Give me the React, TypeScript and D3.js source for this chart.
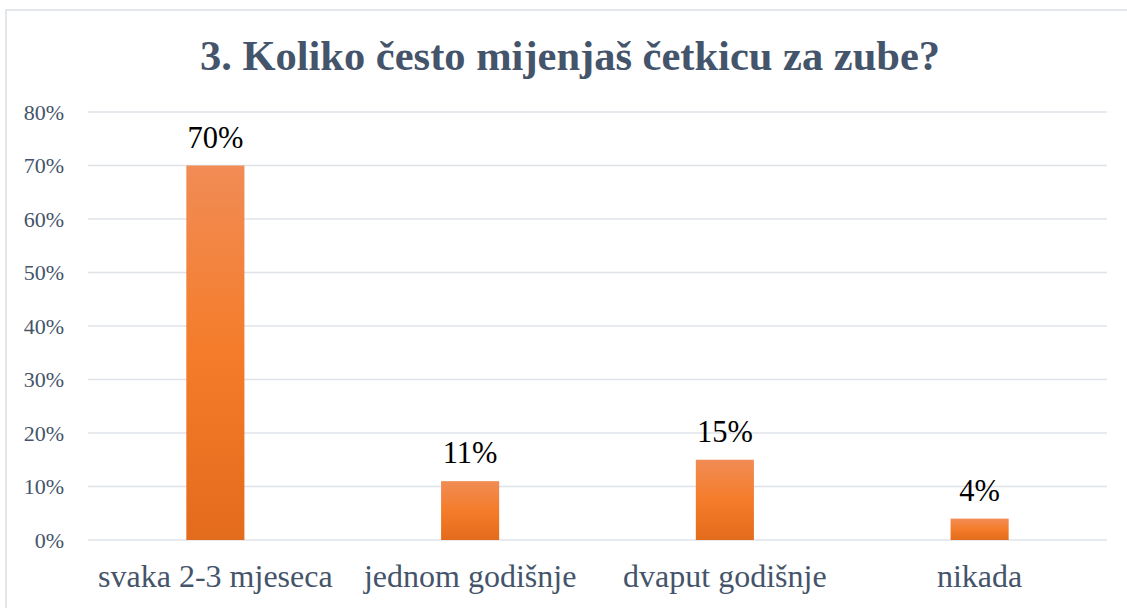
import React, { useEffect, useRef } from "react";
import * as d3 from "d3";

const categories = ["svaka 2-3 mjeseca", "jednom godišnje", "dvaput godišnje", "nikada"];
const values = [70, 11, 15, 4];
const yTicks = [0, 10, 20, 30, 40, 50, 60, 70, 80];
const title = "3. Koliko često mijenjaš četkicu za zube?";

const serif = "'Liberation Serif', 'Times New Roman', serif";

const App: React.FC = () => {
  const svgRef = useRef<SVGSVGElement | null>(null);

  useEffect(() => {
    if (!svgRef.current) return;
    const width = 1127;
    const height = 608;
    const left = 88;
    const right = 1107;
    const top = 112;
    const bottom = 540;

    const svg = d3.select(svgRef.current);
    svg.selectAll("*").remove();
    svg.attr("width", width).attr("height", height);

    // gradient for bars
    const grad = svg
      .append("defs")
      .append("linearGradient")
      .attr("id", "barGrad")
      .attr("x1", 0)
      .attr("y1", 0)
      .attr("x2", 0)
      .attr("y2", 1);
    grad.append("stop").attr("offset", "0%").attr("stop-color", "#f18c55");
    grad.append("stop").attr("offset", "50%").attr("stop-color", "#f47c2a");
    grad.append("stop").attr("offset", "100%").attr("stop-color", "#e36c1c");

    svg.append("rect").attr("width", width).attr("height", height).attr("fill", "#fff");

    // chart border (runs off the right/bottom edge)
    svg
      .append("rect")
      .attr("x", 6)
      .attr("y", 10)
      .attr("width", width + 20)
      .attr("height", height + 20)
      .attr("fill", "none")
      .attr("stroke", "#dadfe6")
      .attr("stroke-width", 1.5);

    const x = d3.scaleBand<string>().domain(categories).range([left, right]).padding(0);
    const y = d3.scaleLinear().domain([0, 80]).range([bottom, top]);
    const barW = x.bandwidth() * 0.228;

    // title
    svg
      .append("text")
      .attr("x", 570)
      .attr("y", 70)
      .attr("text-anchor", "middle")
      .attr("font-family", serif)
      .attr("font-weight", "bold")
      .attr("font-size", 42.5)
      .attr("fill", "#44546a")
      .text(title);

    // gridlines
    svg
      .append("g")
      .selectAll("line")
      .data(yTicks)
      .join("line")
      .attr("x1", left)
      .attr("x2", right)
      .attr("y1", (d) => y(d))
      .attr("y2", (d) => y(d))
      .attr("stroke", "#dfe3e8")
      .attr("stroke-width", 1.5);

    // y tick labels
    svg
      .append("g")
      .selectAll("text")
      .data(yTicks)
      .join("text")
      .attr("x", 64)
      .attr("y", (d) => y(d) + 7.5)
      .attr("text-anchor", "end")
      .attr("font-family", serif)
      .attr("font-size", 22)
      .attr("fill", "#44546a")
      .text((d) => `${d}%`);

    // bars
    svg
      .append("g")
      .selectAll("rect")
      .data(values)
      .join("rect")
      .attr("x", (_, i) => x(categories[i])! + x.bandwidth() / 2 - barW / 2)
      .attr("y", (d) => y(d))
      .attr("width", barW)
      .attr("height", (d) => bottom - y(d))
      .attr("fill", "url(#barGrad)");

    // value labels
    svg
      .append("g")
      .selectAll("text")
      .data(values)
      .join("text")
      .attr("x", (_, i) => x(categories[i])! + x.bandwidth() / 2)
      .attr("y", (d) => y(d) - 18)
      .attr("text-anchor", "middle")
      .attr("font-family", serif)
      .attr("font-size", 30.5)
      .attr("fill", "#000")
      .text((d) => `${d}%`);

    // category labels
    svg
      .append("g")
      .selectAll("text")
      .data(categories)
      .join("text")
      .attr("x", (d) => x(d)! + x.bandwidth() / 2)
      .attr("y", 587)
      .attr("text-anchor", "middle")
      .attr("font-family", serif)
      .attr("font-size", 32)
      .attr("fill", "#44546a")
      .text((d) => d);
  }, []);

  return (
    <div style={{ position: "fixed", left: 0, top: 0 }}>
      <svg ref={svgRef} style={{ display: "block" }} />
    </div>
  );
};

export default App;
